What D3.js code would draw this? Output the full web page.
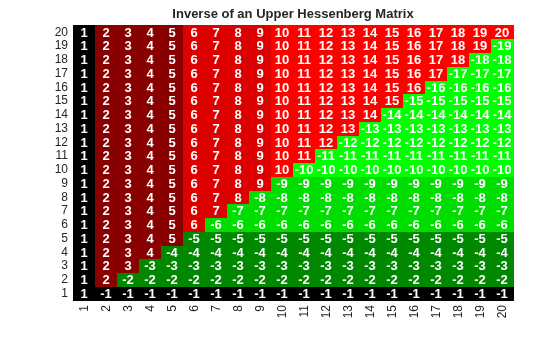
<!DOCTYPE html>
<html>
<head>
<meta charset="utf-8">
<script src="https://cdn.jsdelivr.net/npm/d3@7.9.0/dist/d3.min.js"></script>
<style>
  body { margin: 0; background: #fff; }
  svg { will-change: transform; }
  text { font-family: "Liberation Sans", Arial, sans-serif; }
</style>
</head>
<body>
<div id="chart"></div>
<script>
const title = 'Inverse of an Upper Hessenberg Matrix';
const rowLabels = ['1','2','3','4','5','6','7','8','9','10','11','12','13','14','15','16','17','18','19','20'];
const colLabels = ['1','2','3','4','5','6','7','8','9','10','11','12','13','14','15','16','17','18','19','20'];

// matrix values, one array per row (row 1 at bottom)
const matrix = [
  [1,-1,-1,-1,-1,-1,-1,-1,-1,-1,-1,-1,-1,-1,-1,-1,-1,-1,-1,-1],
  [1,2,-2,-2,-2,-2,-2,-2,-2,-2,-2,-2,-2,-2,-2,-2,-2,-2,-2,-2],
  [1,2,3,-3,-3,-3,-3,-3,-3,-3,-3,-3,-3,-3,-3,-3,-3,-3,-3,-3],
  [1,2,3,4,-4,-4,-4,-4,-4,-4,-4,-4,-4,-4,-4,-4,-4,-4,-4,-4],
  [1,2,3,4,5,-5,-5,-5,-5,-5,-5,-5,-5,-5,-5,-5,-5,-5,-5,-5],
  [1,2,3,4,5,6,-6,-6,-6,-6,-6,-6,-6,-6,-6,-6,-6,-6,-6,-6],
  [1,2,3,4,5,6,7,-7,-7,-7,-7,-7,-7,-7,-7,-7,-7,-7,-7,-7],
  [1,2,3,4,5,6,7,8,-8,-8,-8,-8,-8,-8,-8,-8,-8,-8,-8,-8],
  [1,2,3,4,5,6,7,8,9,-9,-9,-9,-9,-9,-9,-9,-9,-9,-9,-9],
  [1,2,3,4,5,6,7,8,9,10,-10,-10,-10,-10,-10,-10,-10,-10,-10,-10],
  [1,2,3,4,5,6,7,8,9,10,11,-11,-11,-11,-11,-11,-11,-11,-11,-11],
  [1,2,3,4,5,6,7,8,9,10,11,12,-12,-12,-12,-12,-12,-12,-12,-12],
  [1,2,3,4,5,6,7,8,9,10,11,12,13,-13,-13,-13,-13,-13,-13,-13],
  [1,2,3,4,5,6,7,8,9,10,11,12,13,14,-14,-14,-14,-14,-14,-14],
  [1,2,3,4,5,6,7,8,9,10,11,12,13,14,15,-15,-15,-15,-15,-15],
  [1,2,3,4,5,6,7,8,9,10,11,12,13,14,15,16,-16,-16,-16,-16],
  [1,2,3,4,5,6,7,8,9,10,11,12,13,14,15,16,17,-17,-17,-17],
  [1,2,3,4,5,6,7,8,9,10,11,12,13,14,15,16,17,18,-18,-18],
  [1,2,3,4,5,6,7,8,9,10,11,12,13,14,15,16,17,18,19,-19],
  [1,2,3,4,5,6,7,8,9,10,11,12,13,14,15,16,17,18,19,20]
];

// discrete colour bins: thresholds on the value, colours between them
const colorThresholds = [-9.5, -5.5, -1.5, 1.5, 5.5, 9.5];
const colorRange = ['#00ff00', '#00dd00', '#008800', '#000000', '#880000', '#dd0000', '#ff0000'];

const width = 560;
const height = 337;
const margin = { top: 25, right: 47, bottom: 37, left: 73 };

const cells = [];
matrix.forEach((row, i) => {
  row.forEach((v, j) => {
    cells.push({ row: rowLabels[i], col: colLabels[j], value: v });
  });
});

const x = d3.scaleBand()
  .domain(colLabels)
  .range([margin.left, width - margin.right]);

const y = d3.scaleBand()
  .domain(rowLabels)
  .range([height - margin.bottom, margin.top]);

const color = d3.scaleThreshold()
  .domain(colorThresholds)
  .range(colorRange);

const svg = d3.select('#chart')
  .append('svg')
  .attr('width', width)
  .attr('height', height);

svg.append('g')
  .selectAll('rect')
  .data(cells)
  .join('rect')
  .attr('x', d => x(d.col))
  .attr('y', d => y(d.row))
  .attr('width', x.bandwidth() + 0.5)
  .attr('height', y.bandwidth() + 0.5)
  .attr('fill', d => color(d.value))
  .attr('shape-rendering', 'crispEdges');

svg.append('g')
  .selectAll('text')
  .data(cells)
  .join('text')
  .attr('x', d => x(d.col) + x.bandwidth() / 2)
  .attr('y', d => y(d.row) + y.bandwidth() / 2)
  .attr('dy', '0.36em')
  .attr('text-anchor', 'middle')
  .attr('fill', '#fff')
  .attr('font-weight', 'bold')
  .attr('font-size', 13)
  .text(d => d.value);

// y axis labels
const yAxis = svg.append('g')
  .attr('transform', `translate(${margin.left}, 0)`)
  .call(d3.axisLeft(y).tickSize(0).tickPadding(5));
yAxis.select('.domain').remove();
yAxis.attr('fill', '#262626');
yAxis.selectAll('text')
  .attr('font-size', 12)
  .style('fill', '#262626')
  .style('font-family', '"Liberation Sans", Arial, sans-serif');

// x axis labels, rotated
const xAxis = svg.append('g')
  .attr('transform', `translate(0, ${height - margin.bottom})`)
  .call(d3.axisBottom(x).tickSize(0).tickPadding(0));
xAxis.select('.domain').remove();
xAxis.attr('fill', '#262626');
xAxis.selectAll('text')
  .attr('font-size', 12)
  .style('fill', '#262626')
  .style('font-family', '"Liberation Sans", Arial, sans-serif')
  .attr('text-anchor', 'end')
  .attr('dy', '0.35em')
  .attr('transform', 'translate(0, 5) rotate(-90)')
  .attr('x', 0)
  .attr('y', 0);

svg.append('text')
  .attr('x', (margin.left + width - margin.right) / 2)
  .attr('y', 18)
  .attr('text-anchor', 'middle')
  .attr('font-weight', 'bold')
  .attr('font-size', 13)
  .attr('fill', '#262626')
  .text(title);
</script>
</body>
</html>
